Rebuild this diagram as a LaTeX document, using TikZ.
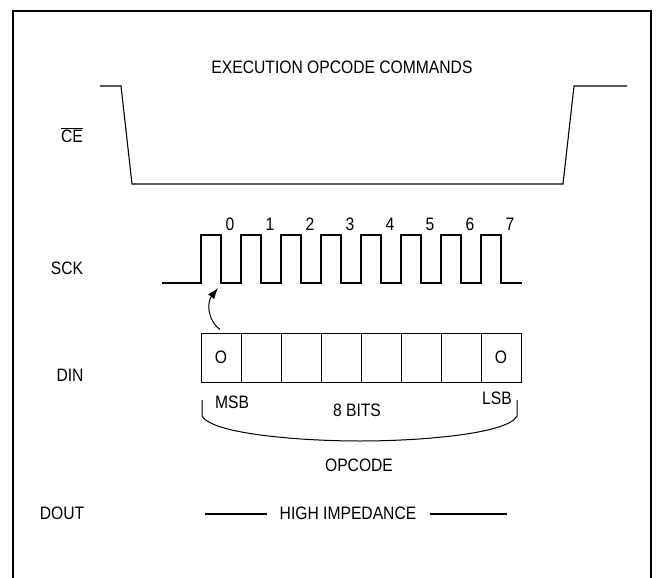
\documentclass[tikz,border=0pt]{standalone}
\usepackage{fontspec}
\setmainfont{Liberation Sans}[FakeStretch=0.87]
\usepackage{tikz}
\usetikzlibrary{arrows.meta}

\tikzset{
    bitbox/.style={draw, line width=1pt, minimum width=40pt, minimum height=49pt, inner sep=0pt},
    wave/.style={line width=1.1pt},
}

\begin{document}
\begin{tikzpicture}[x=1pt,y=-1pt,font=\fontsize{18}{21}\selectfont]
    \useasboundingbox (0,0) rectangle (656,578);
    % frame
    \draw[line width=1.7pt] (13,578) -- (13,11) -- (651,11) -- (651,578);

    % signal names
    \node (ce) at (72,135) {$\overline{\mbox{CE}}$};
    \node (sck) at (67,268) {SCK};
    \node (din) at (70,375) {DIN};
    \node (dout) at (62,513) {DOUT};

    % CE
    \node (title) at (342,67) {EXECUTION OPCODE COMMANDS};
    \draw[wave] (100,86) -- (121,86) -- (132,184) -- (563,184) -- (574,86) -- (627,86);

    % SCK
    \draw[wave] (162,283) -- (201,283) -- (201,235) -- (221,235) -- (221,283)
        -- (241,283) -- (241,235) -- (261,235) -- (261,283)
        -- (281,283) -- (281,235) -- (301,235) -- (301,283)
        -- (321,283) -- (321,235) -- (341,235) -- (341,283)
        -- (361,283) -- (361,235) -- (381,235) -- (381,283)
        -- (401,283) -- (401,235) -- (421,235) -- (421,283)
        -- (441,283) -- (441,235) -- (461,235) -- (461,283)
        -- (481,283) -- (481,235) -- (501,235) -- (501,283) -- (522,283);
    \node (n0) at (230,224) {0};
    \node (n1) at (270,224) {1};
    \node (n2) at (310,224) {2};
    \node (n3) at (350,224) {3};
    \node (n4) at (390,224) {4};
    \node (n5) at (430,224) {5};
    \node (n6) at (470,224) {6};
    \node (n7) at (510,224) {7};

    % DIN
    \node[bitbox] (b1) at (221,357.5) {O};
    \node[bitbox] (b2) at (261,357.5) {};
    \node[bitbox] (b3) at (301,357.5) {};
    \node[bitbox] (b4) at (341,357.5) {};
    \node[bitbox] (b5) at (381,357.5) {};
    \node[bitbox] (b6) at (421,357.5) {};
    \node[bitbox] (b7) at (461,357.5) {};
    \node[bitbox] (b8) at (501,357.5) {O};

    \coordinate (edge) at (218,288);
    \draw[line width=1pt,-{Latex[length=11pt,width=8pt]}] (b1.north) ++(-1,-3)
        .. controls (207,320) and (207,302) .. (edge);

    \node (msb) at (232,402) {MSB};
    \node (lsb) at (497,398) {LSB};
    \node (nbits) at (357,410) {8 BITS};
    \draw[line width=1pt] (202,400) -- (202,416) .. controls (212,434) and (300,441) .. (360,441)
        .. controls (420,441) and (508,434) .. (517,416) -- (517,400);
    \node (opcode) at (359,465) {OPCODE};

    % DOUT
    \node (hiz) at (348,513) {HIGH IMPEDANCE};
    \coordinate (hl) at (205,514);
    \coordinate (hr) at (507,514);
    \draw[wave] (hl) -- (267,514);
    \draw[wave] (430,514) -- (hr);

\end{tikzpicture}
\end{document}
